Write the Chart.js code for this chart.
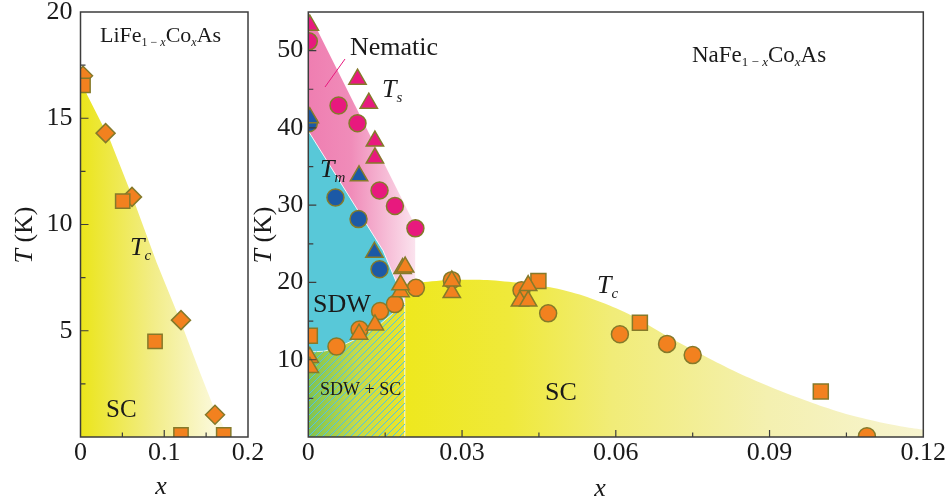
<!DOCTYPE html>
<html>
<head>
<meta charset="utf-8">
<script src="https://cdn.jsdelivr.net/npm/chart.js@4.4.1/dist/chart.umd.min.js"></script>
<style>
html,body{margin:0;padding:0;background:#fff;overflow:hidden;width:945px;height:501px;}
canvas{position:absolute;}
#left{left:0;top:-20px;}
#right{left:240px;top:-20px;}
</style>
</head>
<body>
<canvas id="left" width="275" height="521"></canvas>
<canvas id="right" width="730" height="521"></canvas>
<script>
// ---- LiFe1-xCoxAs (left panel) ----
const liXTicks = [0, 0.1, 0.2];
const liXLabels = ["0", "0.1", "0.2"];
const liXMinor = [0.05, 0.15];
const liYTicks = [5, 10, 15, 20];
const liYLabels = ["5", "10", "15", "20"];
const liYMinor = [2.5, 7.5, 12.5, 17.5];

const liDiamondX = [0.003, 0.030, 0.0615, 0.120, 0.1606];
const liDiamondT = [17.0, 14.3, 11.3, 5.5, 1.05];
const liSquareX = [0.003, 0.0504, 0.089, 0.120, 0.171];
const liSquareT = [16.55, 11.1, 4.5, 0.1, 0.1];
// edge of the SC area
const liScX = [0, 0.008, 0.035, 0.063, 0.091, 0.119, 0.143, 0.159, 0.175, 0.178];
const liScT = [16.9, 16.1, 14.0, 11.2, 8.2, 5.5, 3.0, 1.4, 0.15, 0];

// ---- NaFe1-xCoxAs (right panel) ----
const naXTicks = [0, 0.03, 0.06, 0.09, 0.12];
const naXLabels = ["0", "0.03", "0.06", "0.09", "0.12"];
const naXMinor = [0.015, 0.045, 0.075, 0.105];
const naYTicks = [10, 20, 30, 40, 50];
const naYLabels = ["10", "20", "30", "40", "50"];
const naYMinor = [5, 15, 25, 35, 45];

const naTsCircX = [0.0001, 0.0059, 0.0096, 0.0139, 0.0169, 0.0209];
const naTsCircT = [51.2, 42.9, 40.6, 31.9, 29.9, 27.0];
const naTsTriX = [0.0003, 0.0096, 0.0118, 0.0130, 0.0130];
const naTsTriT = [53.3, 46.3, 43.2, 38.3, 36.1];
const naTmCircX = [0.0001, 0.0053, 0.0098, 0.0139];
const naTmCircT = [40.6, 31.0, 28.2, 21.7];
const naTmTriX = [0.0003, 0.0099, 0.0129];
const naTmTriT = [41.3, 33.8, 23.9];
const naTcCircX = [0.0055, 0.0100, 0.0140, 0.0169, 0.0210, 0.0280, 0.0416, 0.0468, 0.0608, 0.0700, 0.0750, 0.1090];
const naTcCircT = [11.7, 13.9, 16.3, 17.2, 19.3, 20.3, 19.0, 16.0, 13.3, 12.05, 10.6, 0.1];
const naTcTriX = [0.0003, 0.0003, 0.0099, 0.0130, 0.0180, 0.0180, 0.0184, 0.0189, 0.0280, 0.0280, 0.0413, 0.0429, 0.0429];
const naTcTriT = [10.3, 9.0, 13.3, 14.5, 18.8, 19.7, 21.8, 22.0, 18.7, 20.2, 17.6, 17.6, 19.6];
const naTcSqX = [0.0003, 0.0449, 0.0647, 0.1000];
const naTcSqT = [13.1, 20.2, 14.8, 5.9];

// phase regions
const nemX = [0, 0.0209, 0.0209];
const nemT = [55, 27.3, 0];
const sdwX = [0, 0.0146, 0.0186, 0.0186];
const sdwT = [39.6, 24.1, 17.8, 0];
const coexX = [0, 0.003, 0.0055, 0.0100, 0.0140, 0.0175, 0.0189, 0.0189];
const coexT = [11.0, 11.1, 11.5, 12.9, 14.6, 16.6, 17.5, 0];
const domeX = [0.0189, 0.025, 0.031, 0.0374, 0.0439, 0.0504, 0.0569, 0.0634, 0.0699, 0.0764, 0.0829, 0.0894, 0.0959, 0.1024, 0.109, 0.1155, 0.12];
const domeT = [19.8, 20.2, 20.35, 20.2, 19.7, 18.9, 17.5, 15.6, 13.1, 10.8, 8.6, 6.7, 5.0, 3.5, 2.3, 1.4, 0.95];

const ORANGE = "#f2811f", MAGENTA = "#e8197e", BLUE = "#1c59a6", EDGE = "#857a2a";
const SERIF = "Liberation Serif";

function pts(xs, ys){
return xs.map((x, i) => ({x: x, y: ys[i]}));
}

function hGrad(x0, x1, stops){
return function(c){
const chart = c.chart;
if(!chart.chartArea) return "rgba(0,0,0,0)";
const xs = chart.scales.x;
const g = chart.ctx.createLinearGradient(xs.getPixelForValue(x0), 0, xs.getPixelForValue(x1), 0);
stops.forEach(s => g.addColorStop(s[0], s[1]));
return g;
};
}

function hatch(){
const pc = document.createElement("canvas");
pc.width = 7; pc.height = 7;
const p = pc.getContext("2d");
p.strokeStyle = "#4fc3e4";
p.lineWidth = 1;
p.beginPath();
p.moveTo(0, 7); p.lineTo(7, 0);
p.moveTo(-1, 1); p.lineTo(1, -1);
p.moveTo(6, 8); p.lineTo(8, 6);
p.stroke();
return p.createPattern(pc, "repeat");
}

function region(xs, ys, bg, order, extra){
return Object.assign({
type: "line", data: pts(xs, ys), fill: "origin", backgroundColor: bg,
borderColor: "rgba(0,0,0,0)", borderWidth: 0, pointRadius: 0, tension: 0, order: order
}, extra || {});
}

function marks(xs, ys, style, r, color, order){
return {
type: "scatter", data: pts(xs, ys), pointStyle: style, pointRadius: r,
pointBackgroundColor: color, pointBorderColor: EDGE, pointBorderWidth: 1.5,
showLine: false, clip: 0, order: order
};
}

function xAxis(min, max, ticks, labels){
return {
type: "linear", min: min, max: max,
grid: {display: false, drawTicks: false}, border: {display: false},
afterBuildTicks: s => { s.ticks = ticks.map(v => ({value: v})); },
afterFit: s => { s.height = 64; },
ticks: {autoSkip: false, maxRotation: 0, padding: 1, color: "#1a1a1a",
font: {family: SERIF, size: 26}, callback: (v, i) => labels[i]}
};
}

function yAxis(min, max, ticks, labels, width, pad){
return {
type: "linear", min: min, max: max,
grid: {display: false, drawTicks: false}, border: {display: false},
afterBuildTicks: s => { s.ticks = ticks.map(v => ({value: v})); },
afterFit: s => { s.width = width; },
ticks: {autoSkip: false, padding: pad, color: "#1a1a1a",
font: {family: SERIF, size: 26}, callback: (v, i) => labels[i]}
};
}

// text made of pieces: [text, size, italic, dy]
function rich(ctx, x, y, parts, align){
const f = p => (p[2] ? "italic " : "") + p[1] + "px \"" + SERIF + "\"";
let w = 0;
parts.forEach(p => { ctx.font = f(p); w += ctx.measureText(p[0]).width; });
let cx = align === "center" ? x - w / 2 : x;
parts.forEach(p => {
ctx.font = f(p);
ctx.fillText(p[0], cx, y + (p[3] || 0));
cx += ctx.measureText(p[0]).width;
});
}

function vTitle(ctx, bx, cy){
ctx.save();
ctx.translate(bx, cy);
ctx.rotate(-Math.PI / 2);
rich(ctx, 0, 0, [["T", 26, true], [" (K)", 26]], "center");
ctx.restore();
}

function decor(offX, offY, xMaj, xMin, yMaj, yMin, texts){
return {
id: "decor",
afterDraw(chart){
const ctx = chart.ctx, a = chart.chartArea;
const xs = chart.scales.x, ys = chart.scales.y;
ctx.save();
ctx.strokeStyle = "#3d3d3d";
ctx.lineWidth = 1.2;
ctx.beginPath();
xMaj.forEach(v => { const p = xs.getPixelForValue(v); ctx.moveTo(p, a.bottom); ctx.lineTo(p, a.bottom - 7); });
xMin.forEach(v => { const p = xs.getPixelForValue(v); ctx.moveTo(p, a.bottom); ctx.lineTo(p, a.bottom - 4.5); });
yMaj.forEach(v => { const p = ys.getPixelForValue(v); ctx.moveTo(a.left, p); ctx.lineTo(a.left + 8, p); });
yMin.forEach(v => { const p = ys.getPixelForValue(v); ctx.moveTo(a.left, p); ctx.lineTo(a.left + 5, p); });
ctx.stroke();
ctx.lineWidth = 1.5;
ctx.strokeRect(a.left, a.top, a.right - a.left, a.bottom - a.top);
ctx.translate(-offX, -offY);
ctx.fillStyle = "#1a1a1a";
ctx.textAlign = "left";
ctx.textBaseline = "alphabetic";
texts(ctx);
ctx.restore();
}
};
}

const common = {
responsive: false, animation: false, devicePixelRatio: 1, events: [],
plugins: {legend: {display: false}, tooltip: {enabled: false}}
};

new Chart(document.getElementById("left"), {
type: "scatter",
data: {datasets: [
marks(liSquareX, liSquareT, "rect", 10.1, ORANGE, 1),
marks(liDiamondX, liDiamondT, "rectRot", 9.5, ORANGE, 2),
region(liScX, liScT, hGrad(0, 0.175, [[0, "#ebe51a"], [0.5, "#f2ed88"], [1, "#fdfbea"]]), 10)
]},
options: Object.assign({}, common, {
layout: {padding: {top: 32, right: 27, left: 0.5, bottom: 0}},
scales: {
x: xAxis(0, 0.2, liXTicks, liXLabels),
y: yAxis(0, 20, liYTicks, liYLabels, 80, 8)
}
}),
plugins: [decor(0, -20, [0.1], liXMinor, [5, 10, 15], liYMinor, ctx => {
rich(ctx, 100, 42, [["LiFe", 22], ["1 \u2212 ", 12, false, 4], ["x", 12, true, 4], ["Co", 22], ["x", 12, true, 4], ["As", 22]]);
rich(ctx, 130, 255, [["T", 26, true], ["c", 15, true, 5]]);
rich(ctx, 106, 417, [["SC", 25]]);
rich(ctx, 161, 494, [["x", 26, true]], "center");
vTitle(ctx, 32, 235);
})]
});

const hatchPattern = hatch();

new Chart(document.getElementById("right"), {
type: "scatter",
data: {datasets: [
marks(naTcTriX, naTcTriT, "triangle", 10, ORANGE, 1),
marks(naTcCircX, naTcCircT, "circle", 8.5, ORANGE, 2),
marks(naTcSqX, naTcSqT, "rect", 10.6, ORANGE, 3),
marks(naTmTriX, naTmTriT, "triangle", 10, BLUE, 1),
marks(naTmCircX, naTmCircT, "circle", 8.5, BLUE, 2),
marks(naTsTriX, naTsTriT, "triangle", 10, MAGENTA, 1),
marks(naTsCircX, naTsCircT, "circle", 8.5, MAGENTA, 2),
region(domeX, domeT, hGrad(0.0189, 0.12, [[0, "#eee81e"], [0.2, "#efe93a"], [0.4, "#f1ec78"], [0.7, "#f4f0b0"], [1, "#f7f4d0"]]), 10, {tension: 0.4}),
region(coexX, coexT, hatchPattern, 11),
region(coexX, coexT, hGrad(0, 0.0189, [[0, "#7fc350"], [0.5, "#c4da4a"], [1, "#ece62a"]]), 12, {borderColor: "rgba(255,255,255,0.8)", borderWidth: 1}),
region(sdwX, sdwT, "#58c8d8", 13, {borderColor: "rgba(255,255,255,0.9)", borderWidth: 1}),
region(nemX, nemT, hGrad(0, 0.0209, [[0, "#ef7eb1"], [0.4, "#f08cb9"], [1, "#fbe3ee"]]), 14)
]},
options: Object.assign({}, common, {
layout: {padding: {top: 32, right: 46.7, left: 0.3, bottom: 0}},
scales: {
x: xAxis(0, 0.12, naXTicks, naXLabels),
y: yAxis(0, 55, naYTicks, naYLabels, 68, 5)
}
}),
plugins: [decor(240, -20, [0.03, 0.06, 0.09], naXMinor, naYTicks, naYMinor, ctx => {
ctx.strokeStyle = MAGENTA;
ctx.lineWidth = 1;
ctx.beginPath(); ctx.moveTo(325, 87); ctx.lineTo(345, 59); ctx.stroke();
rich(ctx, 350, 55, [["Nematic", 26]]);
rich(ctx, 382, 97, [["T", 26, true], ["s", 15, true, 5]]);
rich(ctx, 320, 177, [["T", 26, true], ["m", 15, true, 5]]);
rich(ctx, 313, 312, [["SDW", 26]]);
rich(ctx, 320, 395, [["SDW + SC", 18]]);
rich(ctx, 545, 400, [["SC", 26]]);
rich(ctx, 597, 293, [["T", 26, true], ["c", 15, true, 5]]);
rich(ctx, 692, 62, [["NaFe", 23], ["1 \u2212 ", 13, false, 4], ["x", 13, true, 4], ["Co", 23], ["x", 13, true, 4], ["As", 23]]);
rich(ctx, 600, 496, [["x", 26, true]], "center");
vTitle(ctx, 271, 235);
})]
});
</script>
</body>
</html>
